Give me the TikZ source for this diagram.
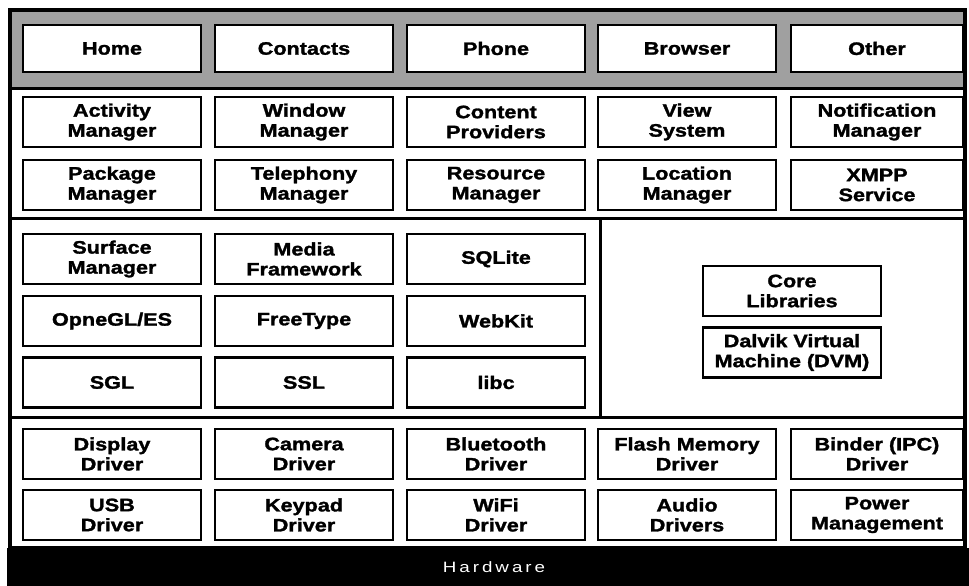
\documentclass[tikz,border=0pt]{standalone}
\usepackage{fontspec}
\usepackage{xcolor}
\usepackage{tikz}
\usetikzlibrary{positioning}
\newfontfamily\boxfont[FakeStretch=1.2,BoldFeatures={FakeBold=1.6}]{Liberation Sans}
\newfontfamily\hwfont[FakeStretch=1.25,LetterSpace=20]{Liberation Sans}
\definecolor{BandGray}{RGB}{160,160,160}

\begin{document}
\begin{tikzpicture}[x=1pt, y=-1pt,
		box/.style={draw, line width=2.4pt, fill=white, minimum width=178pt,
			minimum height=50pt, inner sep=0pt, align=center,
			font=\boxfont\bfseries\fontsize{18}{20}\selectfont},
		appbox/.style={box, minimum height=47pt},
		sepline/.style={line width=3pt}]
		\useasboundingbox (0,0) rectangle (969,586);
		% application layer band
		\fill[BandGray] (10,10) rectangle (965,88);
		
		% layer separators
		\draw[sepline] (10,88) -- (965,88);
		\draw[sepline] (10,218) -- (965,218);
		\draw[sepline] (10,417) -- (965,417);
		\draw[sepline] (600,218) -- (600,417); % libraries | runtime
		\draw[line width=4pt] (10,10) rectangle (965,548);
		
		% applications
		\node[appbox] (home) at (112,48.5) {Home};
		\node[appbox] (contacts) at (304,48.5) {Contacts};
		\node[appbox] (phone) at (496,48.5) {Phone};
		\node[appbox] (browser) at (687,48.5) {Browser};
		\node[appbox, minimum width=172pt] (other) at (877,48.5) {Other};
		
		% application framework
		\node[box] (actmgr) at (112,122) {Activity\\Manager};
		\node[box] (winmgr) at (304,122) {Window\\Manager};
		\node[box] (content) at (496,122) {Content\\Providers};
		\node[box] (viewsys) at (687,122) {View\\System};
		\node[box, minimum width=172pt] (notifmgr) at (877,122) {Notification\\Manager};
		\node[box] (pkgmgr) at (112,185) {Package\\Manager};
		\node[box] (telmgr) at (304,185) {Telephony\\Manager};
		\node[box] (resmgr) at (496,185) {Resource\\Manager};
		\node[box] (locmgr) at (687,185) {Location\\Manager};
		\node[box, minimum width=172pt] (xmpp) at (877,185) {XMPP\\Service};
		
		% libraries
		\node[box] (surface) at (112,259) {Surface\\Manager};
		\node[box] (media) at (304,259) {Media\\Framework};
		\node[box] (sqlite) at (496,259) {SQLite};
		\node[box] (opengl) at (112,321) {OpneGL/ES};
		\node[box] (freetype) at (304,321) {FreeType};
		\node[box] (webkit) at (496,321) {WebKit};
		\node[box] (sgl) at (112,382.5) {SGL};
		\node[box] (ssl) at (304,382.5) {SSL};
		\node[box] (libc) at (496,382.5) {libc};
		
		% runtime
		\node[box] (corelib) at (792,291) {Core\\Libraries};
		\node[box] (dvm) at (792,352.5) {Dalvik Virtual\\Machine (DVM)};
		
		% kernel drivers
		\node[box] (display) at (112,454) {Display\\Driver};
		\node[box] (camera) at (304,454) {Camera\\Driver};
		\node[box] (bluetooth) at (496,454) {Bluetooth\\Driver};
		\node[box] (flash) at (687,454) {Flash Memory\\Driver};
		\node[box, minimum width=172pt] (binder) at (877,454) {Binder (IPC)\\Driver};
		\node[box] (usb) at (112,515) {USB\\Driver};
		\node[box] (keypad) at (304,515) {Keypad\\Driver};
		\node[box] (wifi) at (496,515) {WiFi\\Driver};
		\node[box] (audio) at (687,515) {Audio\\Drivers};
		\node[box, minimum width=172pt] (power) at (877,515) {Power\\Management};
		
		% hardware bar
		\fill (7,548) rectangle (969,586);
		\node[text=white, font=\hwfont\fontsize{15}{17}\selectfont] (hw) at (494,567) {Hardware};
	\end{tikzpicture}
\end{document}
